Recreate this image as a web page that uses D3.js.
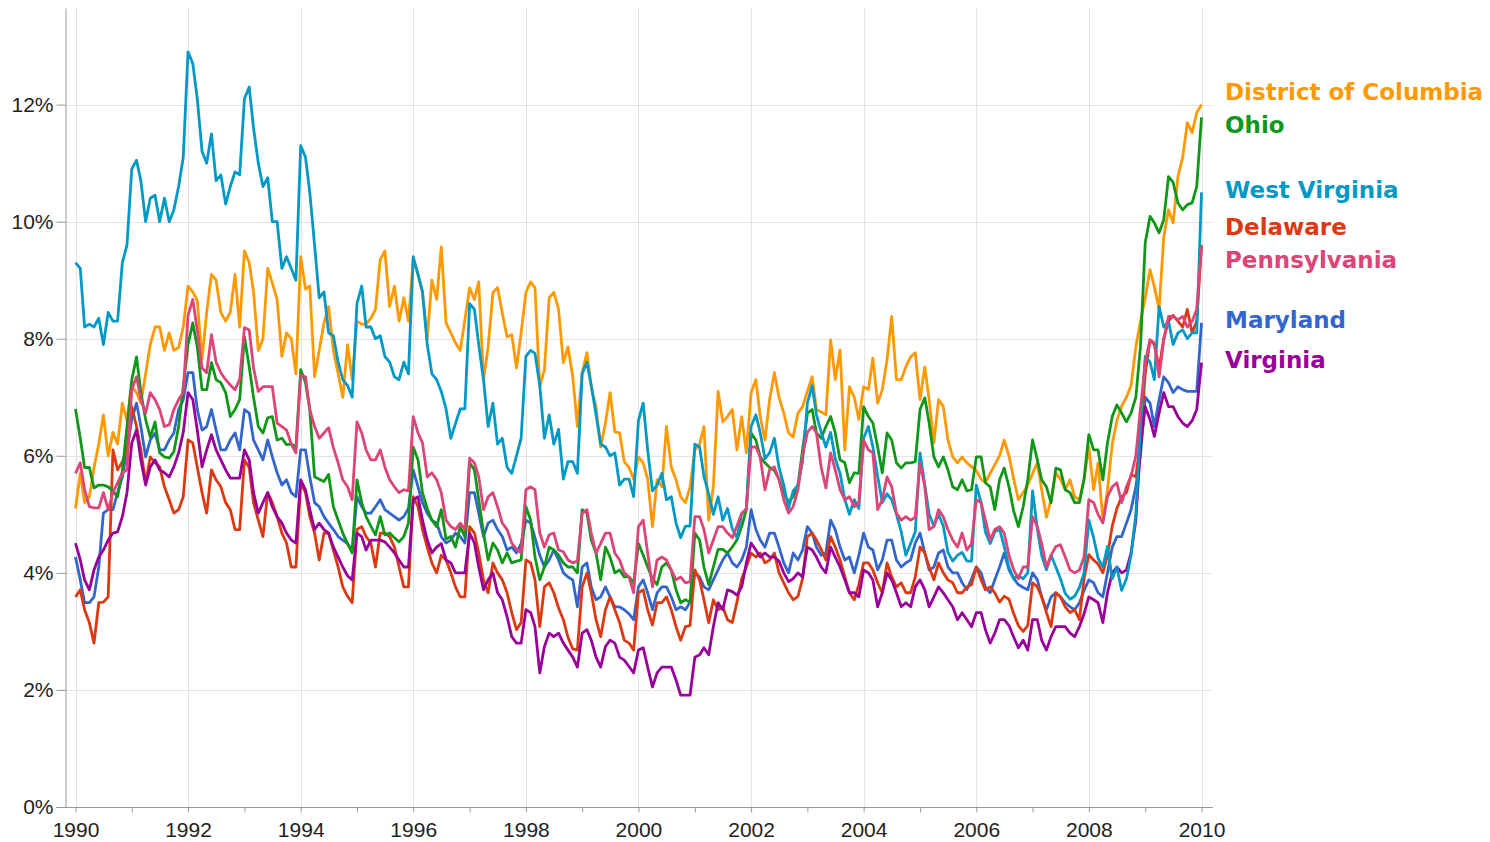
<!DOCTYPE html>
<html>
<head>
<meta charset="utf-8">
<script src="https://cdn.jsdelivr.net/npm/d3@7"></script>
<style>
body { margin: 0; background: #fff; }
</style>
</head>
<body>
<script>
// series order follows the default palette order of the original chart
var estados = ['Maryland', 'Delaware', 'District of Columbia', 'Ohio', 'Virginia', 'West Virginia', 'Pennsylvania']
var colores = ['#3366cc', '#dc3912', '#ff9900', '#109618', '#990099', '#0099c6', '#dd4477']
var yTicks = [0, 2, 4, 6, 8, 10, 12]
var anioInicio = 1990, anioFin = 2010

// monthly unemployment rate (%), Jan 1990 .. Jan 2010
var maryland = [
	4.27, 3.88, 3.49, 3.49, 3.59, 4.1, 5.02, 5.08, 5.08, 5.37, 5.64, 6.1,
	6.62, 6.9, 6.5, 5.98, 6.27, 6.39, 6.1, 6.1, 6.27, 6.39, 6.79, 6.96,
	7.42, 7.42, 6.79, 6.44, 6.5, 6.79, 6.44, 6.1, 6.1, 6.27, 6.39, 6.1,
	6.79, 6.73, 6.27, 6.1, 5.93, 6.27, 5.98, 5.71, 5.5, 5.59, 5.37, 5.3,
	6.1, 6.1, 5.64, 5.2, 5.13, 4.96, 4.85, 4.74, 4.62, 4.56, 4.5, 4.39,
	5.3, 5.13, 5.02, 5.02, 5.13, 5.25, 5.08, 5.02, 4.96, 4.9, 4.96, 5.1,
	5.76, 5.47, 5.2, 5.02, 4.9, 4.85, 4.62, 4.51, 4.56, 4.68, 4.62, 4.51,
	5.37, 5.37, 5.02, 4.62, 4.85, 4.9, 4.74, 4.62, 4.39, 4.44, 4.34, 4.5,
	4.9, 4.85, 4.6, 4.3, 4.1, 4.22, 4.39, 4.22, 4.0, 3.93, 3.88, 3.42,
	4.1, 4.17, 3.76, 3.54, 3.59, 3.76, 3.59, 3.42, 3.42, 3.37, 3.3, 3.2,
	3.76, 3.88, 3.66, 3.37, 3.66, 3.76, 3.76, 3.59, 3.37, 3.42, 3.37, 3.5,
	4.0, 3.93, 3.76, 3.71, 3.88, 4.05, 4.22, 4.34, 4.17, 4.1, 4.22, 4.44,
	5.08, 4.74, 4.56, 4.44, 4.68, 4.68, 4.44, 4.17, 4.0, 4.34, 4.22, 4.39,
	4.79, 4.68, 4.44, 4.3, 4.34, 4.9, 4.74, 4.44, 4.22, 4.27, 4.0, 4.3,
	4.68, 4.44, 4.39, 4.05, 4.22, 4.56, 4.56, 4.22, 4.1, 4.17, 4.22, 4.51,
	4.68, 4.34, 4.05, 4.1, 4.34, 4.39, 4.1, 4.0, 4.0, 3.83, 3.71, 3.9,
	4.1, 4.0, 3.76, 3.66, 3.88, 4.1, 4.34, 4.05, 3.9, 3.8, 3.75, 3.71,
	4.0, 3.88, 3.59, 3.37, 3.59, 3.66, 3.59, 3.49, 3.42, 3.37, 3.49, 3.7,
	3.88, 3.83, 3.66, 3.59, 4.0, 4.44, 4.62, 4.62, 4.85, 5.08, 5.47, 6.0,
	7.0, 6.9, 6.5, 6.96, 7.35, 7.25, 7.08, 7.18, 7.13, 7.1, 7.1, 7.1,
	8.27]

var delaware = [
	3.59, 3.71, 3.37, 3.15, 2.8, 3.49, 3.5, 3.59, 6.1, 5.76, 5.9, 6.1,
	6.84, 6.5, 6.1, 5.54, 5.98, 5.88, 5.81, 5.47, 5.25, 5.02, 5.08, 5.3,
	6.27, 6.22, 5.81, 5.37, 5.02, 5.76, 5.59, 5.47, 5.2, 5.08, 4.74, 4.74,
	5.93, 5.8, 5.2, 4.9, 4.62, 5.37, 5.2, 4.96, 4.68, 4.51, 4.1, 4.1,
	5.54, 5.37, 4.96, 4.68, 4.22, 4.68, 4.68, 4.39, 4.1, 3.76, 3.6, 3.49,
	4.74, 4.79, 4.62, 4.51, 4.1, 4.68, 4.68, 4.62, 4.44, 4.1, 3.76, 3.76,
	5.3, 5.13, 4.74, 4.44, 4.17, 4.0, 4.3, 4.22, 4.0, 3.76, 3.59, 3.59,
	4.79, 4.68, 4.34, 3.88, 3.66, 4.17, 4.0, 3.88, 3.66, 3.32, 3.03, 3.15,
	4.22, 4.17, 3.88, 3.08, 3.76, 3.83, 3.66, 3.4, 3.2, 2.9, 2.7, 2.68,
	3.76, 4.0, 3.66, 3.2, 2.91, 3.37, 3.59, 3.37, 3.15, 2.85, 2.8, 2.68,
	3.66, 3.71, 3.37, 3.11, 3.49, 3.49, 3.59, 3.37, 3.08, 2.85, 3.08, 3.1,
	4.05, 3.88, 3.54, 3.15, 3.54, 3.37, 3.42, 3.2, 3.15, 3.5, 3.9, 4.1,
	4.34, 4.27, 4.34, 4.17, 4.22, 4.34, 4.0, 3.83, 3.66, 3.54, 3.6, 3.9,
	4.62, 4.68, 4.56, 4.4, 4.22, 4.62, 4.44, 4.22, 3.93, 3.66, 3.54, 3.8,
	4.17, 4.17, 4.05, 3.83, 3.66, 4.17, 3.93, 3.76, 3.83, 3.66, 3.66, 3.93,
	4.44, 4.34, 4.1, 3.88, 4.17, 4.0, 3.88, 3.83, 3.66, 3.66, 3.76, 3.8,
	4.1, 3.88, 3.71, 3.76, 3.66, 3.5, 3.6, 3.55, 3.3, 3.1, 3.0, 3.1,
	3.83, 3.76, 3.59, 3.32, 3.08, 3.66, 3.59, 3.42, 3.32, 3.37, 3.2, 3.9,
	4.31, 4.22, 4.15, 4.0, 4.3, 4.8, 5.1, 5.3, 5.37, 5.68, 5.64, 6.27,
	7.4, 7.98, 7.9, 7.5, 8.0, 8.3, 8.4, 8.3, 8.2, 8.5, 8.1, 8.3,
	9.6]

var dc = [
	5.1, 5.7, 5.2, 5.3, 5.8, 6.2, 6.7, 6.0, 6.4, 6.2, 6.9, 6.6,
	7.18, 7.08, 6.9, 7.4, 7.9, 8.2, 8.2, 7.8, 8.1, 7.8, 7.85, 8.2,
	8.9, 8.8, 8.65, 7.65, 8.45, 9.1, 9.0, 8.45, 8.3, 8.45, 9.1, 8.2,
	9.5, 9.3, 8.8, 7.8, 8.0, 9.2, 8.95, 8.67, 7.7, 8.1, 8.0, 7.4,
	9.4, 8.85, 8.9, 7.35, 7.8, 8.27, 8.55, 7.8, 7.4, 7.0, 7.9, 7.3,
	8.3, 8.25, 8.25, 8.35, 8.5, 9.35, 9.5, 8.55, 8.9, 8.3, 8.7, 8.3,
	9.35, 9.1, 8.8, 8.0, 9.0, 8.67, 9.57, 8.27, 8.1, 7.93, 7.8, 8.32,
	8.87, 8.67, 8.97, 7.3, 7.86, 8.79, 8.87, 8.44, 8.03, 8.07, 7.5, 8.1,
	8.79, 8.97, 8.87, 7.18, 7.47, 8.7, 8.79, 8.5, 7.59, 7.86, 7.35, 6.5,
	7.42, 7.76, 7.18, 6.84, 6.15, 6.56, 7.08, 6.41, 6.39, 5.9, 5.8, 5.6,
	5.98, 5.88, 5.6, 4.79, 5.59, 5.47, 6.5, 5.81, 5.59, 5.3, 5.2, 5.47,
	6.1, 6.2, 6.5, 4.9, 5.47, 7.1, 6.58, 6.67, 6.79, 6.1, 6.67, 6.05,
	7.08, 7.3, 6.67, 6.27, 6.96, 7.42, 7.0, 6.73, 6.39, 6.32, 6.73, 6.84,
	7.1, 7.35, 6.79, 6.75, 6.7, 7.98, 7.3, 7.81, 6.1, 7.18, 7.0, 6.62,
	7.18, 7.13, 7.67, 6.9, 7.13, 7.64, 8.38, 7.3, 7.3, 7.52, 7.69, 7.76,
	6.96, 7.52, 6.96, 6.22, 6.96, 6.84, 6.27, 5.98, 5.88, 5.98, 5.88, 5.81,
	5.75, 5.6, 5.54, 5.7, 5.85, 6.0, 6.27, 6.0, 5.6, 5.25, 5.37, 5.5,
	5.7, 5.88, 5.42, 4.95, 5.25, 5.71, 5.6, 5.42, 5.59, 5.3, 5.25, 5.6,
	6.15, 5.42, 5.88, 4.9, 5.42, 6.2, 6.6, 6.85, 7.0, 7.2, 7.86, 8.3,
	8.7, 9.18, 8.89, 8.5, 9.74, 10.2, 9.98, 10.77, 11.1, 11.69, 11.52, 11.86,
	12.0]

var ohio = [
	6.8, 6.3, 5.8, 5.8, 5.45, 5.5, 5.5, 5.47, 5.4, 5.3, 5.75, 6.5,
	7.3, 7.69, 7.08, 6.62, 6.32, 6.58, 6.05, 5.98, 5.96, 6.07, 6.5, 7.18,
	7.9, 8.27, 7.86, 7.13, 7.13, 7.59, 7.3, 7.25, 7.08, 6.67, 6.79, 6.96,
	8.03, 7.52, 7.0, 6.5, 6.39, 6.65, 6.67, 6.27, 6.3, 6.19, 6.2, 6.15,
	7.47, 7.25, 6.79, 5.64, 5.6, 5.56, 5.68, 5.13, 4.9, 4.68, 4.5, 4.34,
	5.59, 5.2, 4.96, 4.8, 4.65, 4.96, 4.65, 4.68, 4.6, 4.53, 4.62, 4.85,
	6.15, 5.93, 5.37, 5.1, 4.9, 4.79, 5.08, 4.58, 4.62, 4.44, 4.79, 4.62,
	5.88, 5.76, 5.25, 4.68, 4.22, 4.51, 4.39, 4.17, 4.34, 4.17, 4.2, 4.22,
	5.13, 4.9, 4.27, 3.88, 4.1, 4.44, 4.39, 4.3, 4.17, 4.1, 4.1, 4.0,
	5.08, 5.02, 4.56, 4.34, 3.88, 4.44, 4.27, 4.0, 4.05, 3.93, 3.93, 3.83,
	4.5, 4.3, 4.1, 3.9, 3.8, 4.1, 4.17, 4.05, 3.71, 3.49, 3.54, 3.5,
	4.68, 4.56, 4.1, 3.8, 4.1, 4.4, 4.4, 4.34, 4.44, 4.56, 4.79, 5.08,
	6.39, 6.27, 5.98, 5.88, 5.8, 5.75, 5.6, 5.35, 5.22, 5.3, 5.5, 6.1,
	6.73, 6.79, 6.39, 6.3, 6.5, 6.67, 6.39, 5.93, 5.88, 5.54, 5.71, 5.7,
	6.84, 6.67, 6.56, 6.15, 5.71, 6.39, 6.27, 5.88, 5.79, 5.88, 5.88, 5.9,
	6.79, 6.99, 6.56, 5.98, 5.81, 5.98, 5.76, 5.47, 5.42, 5.59, 5.4, 5.42,
	5.98, 5.98, 5.54, 5.47, 5.08, 5.59, 5.79, 5.47, 5.05, 4.79, 5.13, 5.59,
	6.27, 5.93, 5.59, 5.47, 5.2, 5.79, 5.76, 5.42, 5.37, 5.2, 5.2, 5.6,
	6.36, 6.1, 6.1, 5.59, 6.22, 6.67, 6.87, 6.73, 6.58, 6.73, 7.0, 7.86,
	9.64, 10.09, 9.98, 9.81, 10.03, 10.77, 10.67, 10.32, 10.2, 10.29, 10.32, 10.6,
	11.78]

var virginia = [
	4.51, 4.22, 3.88, 3.71, 4.05, 4.27, 4.39, 4.56, 4.68, 4.7, 4.96, 5.37,
	6.22, 6.44, 5.93, 5.5, 5.81, 5.93, 5.76, 5.71, 5.64, 5.81, 6.05, 6.4,
	7.08, 6.96, 6.44, 5.81, 6.1, 6.36, 6.1, 5.93, 5.76, 5.62, 5.62, 5.62,
	6.1, 5.93, 5.37, 5.02, 5.2, 5.37, 5.13, 4.96, 4.85, 4.68, 4.56, 4.51,
	5.59, 5.42, 5.08, 4.74, 4.85, 4.74, 4.68, 4.44, 4.27, 4.1, 3.95, 3.88,
	4.68, 4.62, 4.39, 4.56, 4.56, 4.56, 4.53, 4.44, 4.34, 4.22, 4.1, 4.1,
	5.25, 5.3, 4.9, 4.56, 4.34, 4.44, 4.5, 4.22, 4.17, 4.0, 4.0, 4.0,
	4.68, 4.51, 4.1, 3.71, 3.88, 4.0, 3.66, 3.54, 3.25, 2.91, 2.8, 2.8,
	3.37, 3.32, 3.08, 2.29, 2.74, 2.97, 2.91, 2.97, 2.8, 2.68, 2.56, 2.39,
	2.97, 3.03, 2.85, 2.56, 2.39, 2.74, 2.85, 2.8, 2.56, 2.51, 2.4, 2.29,
	2.68, 2.72, 2.39, 2.05, 2.29, 2.39, 2.39, 2.39, 2.17, 1.91, 1.91, 1.91,
	2.56, 2.6, 2.72, 2.6, 3.08, 3.49, 3.37, 3.71, 3.68, 3.62, 3.76, 4.17,
	4.51, 4.39, 4.27, 4.34, 4.27, 4.27, 4.2, 4.0, 3.85, 3.9, 4.0, 3.93,
	4.44, 4.39, 4.27, 4.1, 4.0, 4.44, 4.27, 4.1, 3.88, 3.66, 3.66, 3.59,
	4.05, 4.0, 3.88, 3.42, 3.66, 4.0, 3.88, 3.66, 3.42, 3.49, 3.42, 3.76,
	3.88, 3.71, 3.42, 3.59, 3.76, 3.66, 3.54, 3.42, 3.2, 3.32, 3.2, 3.08,
	3.32, 3.32, 3.03, 2.8, 2.97, 3.2, 3.2, 3.1, 2.9, 2.72, 2.85, 2.68,
	3.2, 3.2, 2.85, 2.68, 2.91, 3.08, 3.08, 3.08, 2.97, 2.91, 3.08, 3.3,
	3.59, 3.54, 3.49, 3.15, 3.66, 4.0, 4.1, 4.0, 4.05, 4.34, 4.9, 6.15,
	6.84, 6.62, 6.33, 6.73, 7.08, 6.84, 6.84, 6.67, 6.56, 6.5, 6.6, 6.79,
	7.59]

var westVirginia = [
	9.3, 9.2, 8.2, 8.25, 8.2, 8.35, 7.9, 8.45, 8.3, 8.3, 9.3, 9.6,
	10.9, 11.05, 10.7, 10.0, 10.4, 10.45, 10.0, 10.4, 10.0, 10.2, 10.6, 11.1,
	12.9, 12.7, 12.1, 11.2, 11.0, 11.5, 10.7, 10.8, 10.3, 10.6, 10.85, 10.8,
	12.1, 12.3, 11.6, 11.0, 10.6, 10.75, 10.0, 10.0, 9.2, 9.4, 9.2, 9.0,
	11.3, 11.1, 10.5, 9.6, 8.7, 8.8, 8.1, 8.05, 7.6, 7.3, 7.2, 7.0,
	8.6, 8.9, 8.2, 8.2, 8.0, 8.05, 7.7, 7.6, 7.35, 7.3, 7.6, 7.4,
	9.4, 9.1, 8.8, 7.9, 7.4, 7.3, 7.1, 6.8, 6.3, 6.55, 6.8, 6.8,
	8.6, 8.5, 7.9, 7.3, 6.5, 6.9, 6.2, 6.3, 5.8, 5.7, 6.0, 6.3,
	7.7, 7.8, 7.75, 7.2, 6.3, 6.7, 6.2, 6.45, 5.6, 5.9, 5.9, 5.7,
	7.4, 7.6, 7.2, 6.7, 6.2, 6.15, 6.0, 6.05, 5.5, 5.6, 5.6, 5.3,
	6.6, 6.9, 6.1, 5.4, 5.5, 5.7, 5.25, 5.3, 4.85, 4.6, 4.8, 4.8,
	6.2, 6.15, 5.65, 5.35, 5.0, 5.3, 4.9, 5.1, 4.75, 4.6, 5.0, 5.1,
	6.5, 6.7, 6.4, 5.95, 6.05, 6.3, 5.8, 5.5, 5.1, 5.4, 5.5, 5.9,
	6.9, 7.2, 6.7, 6.4, 6.15, 6.4, 5.95, 5.7, 5.25, 5.0, 5.25, 5.1,
	6.3, 6.5, 6.15, 5.65, 5.2, 5.35, 5.25, 5.0, 4.7, 4.3, 4.5, 4.7,
	6.05, 5.5, 5.0, 4.8, 5.0, 4.8, 4.35, 4.2, 4.3, 4.35, 4.2, 4.2,
	5.5, 5.2, 4.7, 4.5, 4.7, 4.75, 4.45, 4.1, 3.9, 3.95, 3.9, 4.0,
	5.4, 4.75, 4.3, 4.05, 4.3, 4.1, 3.9, 3.65, 3.55, 3.6, 3.75, 4.0,
	4.9, 4.6, 4.25, 4.1, 4.45, 3.9, 4.1, 3.7, 3.9, 4.3, 5.0, 6.5,
	7.7, 7.6, 7.3, 8.55, 8.2, 8.3, 7.9, 8.1, 8.15, 8.0, 8.1, 8.1,
	10.5]

var pennsylvania = [
	5.7, 5.88, 5.42, 5.13, 5.11, 5.11, 5.37, 5.08, 5.37, 5.54, 5.71, 5.76,
	7.13, 7.35, 6.96, 6.73, 7.08, 6.96, 6.79, 6.5, 6.53, 6.79, 6.96, 7.08,
	8.4, 8.67, 8.15, 7.5, 7.42, 8.07, 7.6, 7.42, 7.3, 7.21, 7.13, 7.3,
	8.19, 8.15, 7.5, 7.1, 7.18, 7.18, 7.18, 6.56, 6.5, 6.44, 6.2, 6.05,
	7.38, 7.35, 6.79, 6.5, 6.3, 6.39, 6.48, 6.14, 5.88, 5.59, 5.47, 5.25,
	6.58, 6.39, 6.1, 5.93, 5.93, 6.1, 5.81, 5.59, 5.47, 5.37, 5.42, 5.4,
	6.67, 6.39, 6.22, 5.64, 5.71, 5.59, 5.37, 4.9, 4.79, 4.74, 4.85, 4.74,
	5.96, 5.88, 5.64, 5.08, 5.3, 5.37, 5.13, 4.85, 4.74, 4.51, 4.4, 4.34,
	5.42, 5.47, 5.42, 4.68, 4.44, 4.65, 4.68, 4.39, 4.36, 4.22, 4.17, 4.2,
	5.02, 5.08, 4.68, 4.34, 4.5, 4.68, 4.68, 4.34, 4.22, 4.0, 3.93, 3.66,
	4.79, 4.9, 4.34, 3.76, 4.22, 4.27, 4.22, 4.05, 3.88, 3.93, 3.83, 3.85,
	4.96, 4.96, 4.74, 4.34, 4.56, 4.79, 4.79, 4.68, 4.6, 4.8, 5.02, 5.08,
	6.15, 6.15, 5.98, 5.42, 5.76, 5.81, 5.59, 5.25, 5.02, 5.13, 5.42, 6.0,
	6.4, 6.5, 6.39, 5.8, 5.45, 6.05, 5.76, 5.42, 5.25, 5.3, 5.13, 5.2,
	6.27, 6.1, 6.05, 5.08, 5.25, 5.64, 5.47, 5.02, 4.9, 4.96, 4.9, 4.95,
	5.88, 5.47, 4.74, 4.79, 5.08, 4.96, 4.74, 4.56, 4.44, 4.68, 4.39, 4.5,
	5.25, 5.2, 4.9, 4.56, 4.74, 4.79, 4.68, 4.3, 4.05, 3.9, 4.1, 4.1,
	4.96, 4.79, 4.5, 4.1, 4.3, 4.45, 4.48, 4.27, 4.05, 4.0, 4.05, 4.27,
	5.25, 5.2, 5.0, 4.85, 5.3, 5.47, 5.54, 5.2, 5.47, 5.65, 6.0, 6.8,
	7.6, 7.98, 7.93, 7.35, 7.98, 8.38, 8.38, 8.32, 8.38, 8.2, 8.3, 8.5,
	9.57]

var series = [maryland, delaware, dc, ohio, virginia, westVirginia, pennsylvania]

var meses = d3.range(maryland.length).map(i => new Date(anioInicio, i, 1))

var width = 1490,
	height = 842,
	margin = {top: 8, left: 65, right: 277, bottom: 35};

var svg = d3.select('body')
	.append('svg')
	.attr('width', width)
	.attr('height', height)
	.style('font-family', '"Liberation Sans", Arial, sans-serif')

var escalaX = d3.scaleTime()
	.domain([new Date(anioInicio, 0, 1), new Date(anioFin, 0, 1)])
	.range([75.5, 1201.5])

var escalaY = d3.scaleLinear()
	.domain([0, 13.65])
	.range([height - margin.bottom, margin.top])

var derecha = width - margin.right

// grid
svg.append('g')
	.selectAll('line')
	.data(yTicks.filter(d => d > 0)).enter()
	.append('line')
	.attr('x1', margin.left).attr('x2', derecha)
	.attr('y1', d => Math.round(escalaY(d)) + 0.5)
	.attr('y2', d => Math.round(escalaY(d)) + 0.5)
	.attr('stroke', '#e4e4e4')

var aniosPares = d3.range(anioInicio, anioFin + 1, 2)
svg.append('g')
	.selectAll('line')
	.data(aniosPares).enter()
	.append('line')
	.attr('x1', d => Math.round(escalaX(new Date(d, 0, 1))) + 0.5)
	.attr('x2', d => Math.round(escalaX(new Date(d, 0, 1))) + 0.5)
	.attr('y1', margin.top).attr('y2', escalaY(0))
	.attr('stroke', '#e4e4e4')

// lines
var linea = d3.line()
	.x((d, i) => escalaX(meses[i]))
	.y(d => escalaY(d))

svg.append('g')
	.selectAll('path')
	.data(series).enter()
	.append('path')
	.attr('d', linea)
	.attr('fill', 'none')
	.attr('stroke', (d, i) => colores[i])
	.attr('stroke-width', 2.8)
	.attr('stroke-linejoin', 'round')

// axes
var ejeY = d3.axisLeft(escalaY)
	.tickValues(yTicks)
	.tickFormat(d => d + '%')
	.tickSize(9)
	.tickSizeOuter(0)
	.tickPadding(3)

var gY = svg.append('g')
	.attr('transform', 'translate(' + (margin.left + 0.5) + ',0)')
	.call(ejeY)

var ejeX = d3.axisBottom(escalaX)
	.ticks(d3.timeYear.every(1))
	.tickSize(5)
	.tickPadding(10)
	.tickFormat(d => d.getFullYear() % 2 === 0 ? d.getFullYear() : '')

var gX = svg.append('g')
	.attr('transform', 'translate(0,' + (escalaY(0) + 0.5) + ')')
	.call(ejeX)
gX.select('.domain').remove()
gX.append('line')
	.attr('x1', margin.left - 9).attr('x2', derecha)
	.attr('stroke', '#999')

svg.selectAll('.domain, .tick line').attr('stroke', '#999')
svg.selectAll('.tick text')
	.attr('fill', '#222')
	.style('font-size', '21px')
	.style('font-family', '"Liberation Sans", Arial, sans-serif')

// labels at the line ends, pushed apart when they collide
var etiquetas = estados.map((e, i) => ({
	nombre: e,
	color: colores[i],
	y: escalaY(series[i][series[i].length - 1]) - 3
}))
etiquetas.sort((a, b) => a.y - b.y)
var sep = 33
for (var k = 0; k < 50; k++) {
	for (var j = 1; j < etiquetas.length; j++) {
		var solape = sep - (etiquetas[j].y - etiquetas[j - 1].y)
		if (solape > 0) {
			etiquetas[j - 1].y -= solape / 2
			etiquetas[j].y += solape / 2
		}
	}
}

svg.append('g')
	.selectAll('text')
	.data(etiquetas).enter()
	.append('text')
	.attr('x', 1225)
	.attr('y', d => d.y)
	.attr('dy', '0.36em')
	.attr('fill', d => d.color)
	.style('font-family', '"DejaVu Sans", Verdana, sans-serif')
	.style('font-weight', 'bold')
	.style('font-size', '23px')
	.text(d => d.nombre)
</script>
</body>
</html>
